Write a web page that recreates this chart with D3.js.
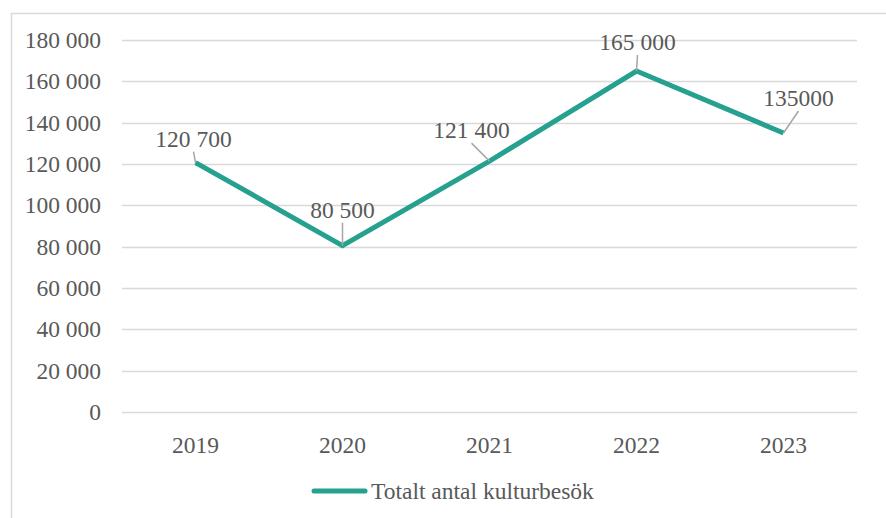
<!DOCTYPE html>
<html>
<head>
<meta charset="utf-8">
<script src="https://cdn.jsdelivr.net/npm/d3@7"></script>
<style>
  body { margin: 0; background: #fff; }
</style>
</head>
<body>
<div id="chart"></div>
<script>
// data
const years = ["2019", "2020", "2021", "2022", "2023"];
const visits = [120700, 80500, 121400, 165000, 135000];
const valueLabels = ["120 700", "80 500", "121 400", "165 000", "135000"];
const yTicks = [0, 20000, 40000, 60000, 80000, 100000, 120000, 140000, 160000, 180000];
const seriesName = "Totalt antal kulturbesök";

const W = 886, H = 518;
const lineColor = "#26a08f";
const textColor = "#595959";
const fontSize = 23.5;
const font = '"Liberation Serif"';

const svg = d3.select("#chart").append("svg")
    .attr("width", W)
    .attr("height", H);

// chart frame (only top + left visible)
svg.append("path")
    .attr("d", `M11.5,${H} V13.5 H${W}`)
    .attr("fill", "none")
    .attr("stroke", "#d9d9d9")
    .attr("stroke-width", 1.5);

const x = d3.scaleBand().domain(years).range([122, 857]);
const y = d3.scaleLinear().domain([0, 180000]).range([412, 40]);

const fmt = v => d3.format(",")(v).replace(/,/g, " ");

// gridlines
svg.append("g")
    .selectAll("line")
    .data(yTicks)
    .join("line")
        .attr("x1", 122)
        .attr("x2", 857)
        .attr("y1", d => Math.round(y(d)) + 0.5)
        .attr("y2", d => Math.round(y(d)) + 0.5)
        .attr("stroke", "#d9d9d9")
        .attr("stroke-width", 1.5);

// y labels
svg.append("g")
    .selectAll("text")
    .data(yTicks)
    .join("text")
        .attr("x", 101)
        .attr("y", d => y(d) + 8)
        .attr("text-anchor", "end")
        .style("font-family", font)
        .style("font-size", fontSize + "px")
        .attr("fill", textColor)
        .text(d => fmt(d));

// x labels
svg.append("g")
    .selectAll("text")
    .data(years)
    .join("text")
        .attr("x", d => x(d) + x.bandwidth() / 2)
        .attr("y", 453)
        .attr("text-anchor", "middle")
        .style("font-family", font)
        .style("font-size", fontSize + "px")
        .attr("fill", textColor)
        .text(d => d);

// line
const pts = years.map((yr, i) => [x(yr) + x.bandwidth() / 2, y(visits[i])]);

svg.append("path")
    .datum(pts)
    .attr("d", d3.line())
    .attr("fill", "none")
    .attr("stroke", lineColor)
    .attr("stroke-width", 5)
    .attr("stroke-linejoin", "miter");

// data labels, moved off the point a bit like excel does (dx, dy of label centre)
const labelOffset = [[-2, -24], [0, -36], [-18, -31], [1, -29], [15, -35]];

const lbl = svg.append("g")
    .selectAll("g")
    .data(pts)
    .join("g");

lbl.append("line")
    .attr("x1", d => d[0])
    .attr("y1", d => d[1])
    .attr("x2", (d, i) => d[0] + labelOffset[i][0])
    .attr("y2", (d, i) => d[1] + labelOffset[i][1] + 13)
    .attr("stroke", "#a6a6a6")
    .attr("stroke-width", 1.5);

lbl.append("text")
    .attr("x", (d, i) => d[0] + labelOffset[i][0])
    .attr("y", (d, i) => d[1] + labelOffset[i][1] + 8)
    .attr("text-anchor", "middle")
    .style("font-family", font)
    .style("font-size", fontSize + "px")
    .attr("fill", textColor)
    .text((d, i) => valueLabels[i]);

// legend
const legend = svg.append("g");
legend.append("line")
    .attr("x1", 314).attr("x2", 365)
    .attr("y1", 491).attr("y2", 491)
    .attr("stroke", lineColor)
    .attr("stroke-width", 5)
    .attr("stroke-linecap", "round");
legend.append("text")
    .attr("x", 371)
    .attr("y", 499)
    .style("font-family", font)
    .style("font-size", fontSize + "px")
    .attr("fill", textColor)
    .text(seriesName);
</script>
</body>
</html>
